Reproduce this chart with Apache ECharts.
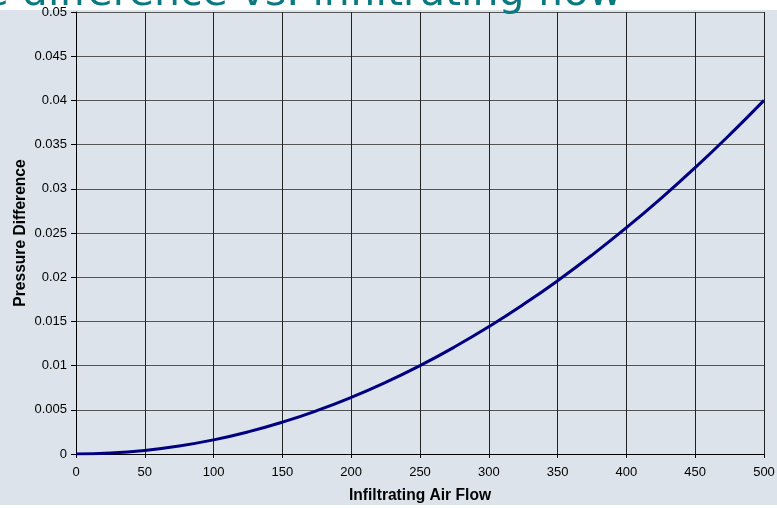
<!DOCTYPE html>
<html><head><meta charset="utf-8">
<script src="https://cdn.jsdelivr.net/npm/echarts@6/dist/echarts.min.js"></script>
<style>html,body{margin:0;padding:0;background:#fff}#c{width:777px;height:508px}</style>
</head><body><div id="c"></div>
<script>
var titleText = 'Pressure difference vs. infiltrating flow';
var xName = 'Infiltrating Air Flow';
var yName = 'Pressure Difference';
var flow = [0,25,50,75,100,125,150,175,200,225,250,275,300,325,350,375,400,425,450,475,500];
var pressure = [0,0.0001,0.0004,0.0009,0.0016,0.0025,0.0036,0.0049,0.0064,0.0081,0.01,0.0121,0.0144,0.0169,0.0196,0.0225,0.0256,0.0289,0.0324,0.0361,0.04];
var data = flow.map(function(f,i){return [f,pressure[i]];});
var chart = echarts.init(document.getElementById('c'));
chart.setOption({
  animation:false,
  backgroundColor:'#ffffff',
  graphic:[
    {type:'rect',z:-10,silent:true,shape:{x:0,y:10,width:777,height:495},style:{fill:'#dce3ea'}},
    {type:'text',z:100,style:{text:titleText,x:622,y:-26,align:'right',verticalAlign:'top',font:'41px "DejaVu Sans"',fill:'#0b7a80'}}
  ],
  grid:{left:76,right:13,top:12,bottom:54,containLabel:false,outerBoundsMode:'none'},
  xAxis:{type:'value',min:0,max:500,interval:50,
    name:xName,nameLocation:'middle',nameGap:34,nameMoveOverlap:false,
    nameTextStyle:{fontFamily:'Liberation Sans',fontWeight:'bold',fontSize:15.6,color:'#000'},
    axisLine:{show:true,lineStyle:{color:'#000',width:1}},
    axisTick:{show:true,length:4,lineStyle:{color:'#000'}},
    axisLabel:{fontFamily:'Liberation Sans',fontSize:13,color:'#000',margin:12},
    splitLine:{show:true,lineStyle:{color:'#222',width:1}}},
  yAxis:{type:'value',min:0,max:0.05,interval:0.005,
    name:yName,nameLocation:'middle',nameGap:47,nameRotate:90,nameMoveOverlap:false,
    nameTextStyle:{fontFamily:'Liberation Sans',fontWeight:'bold',fontSize:15.6,color:'#000'},
    axisLine:{show:true,lineStyle:{color:'#000',width:1}},
    axisTick:{show:true,length:5,lineStyle:{color:'#000'}},
    axisLabel:{fontFamily:'Liberation Sans',fontSize:13,color:'#000',margin:9,
      formatter:function(v){return String(+v.toFixed(3));}},
    splitLine:{show:true,lineStyle:{color:'#555',width:1}}},
  series:[{type:'line',data:data,smooth:true,showSymbol:false,
    lineStyle:{color:'#000080',width:3}}]
});
</script></body></html>
